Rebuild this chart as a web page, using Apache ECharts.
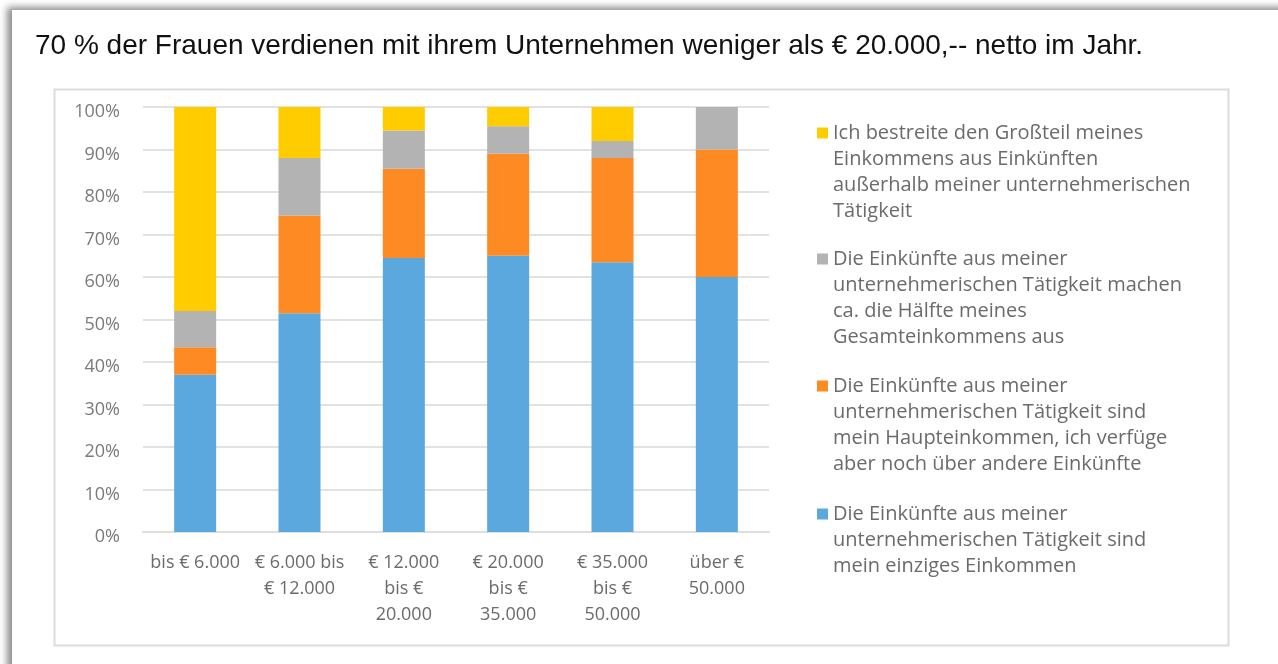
<!DOCTYPE html>
<html>
<head>
<meta charset="utf-8">
<script src="https://cdn.jsdelivr.net/npm/echarts@6/dist/echarts.min.js"></script>
<style>
	html, body {
		margin: 0;
		padding: 0;
		background: #ffffff;
		overflow: hidden;
	}
	.slide {
		position: absolute;
		left: 12px;
		top: 10px;
		width: 1300px;
		height: 700px;
		background: #ffffff;
		box-shadow: -5px -3px 7px rgba(0, 0, 0, 0.45);
	}
	#chart {
		position: absolute;
		left: 0;
		top: 0;
		width: 1278px;
		height: 664px;
	}
</style>
</head>
<body>
<div class="slide"></div>
<div id="chart"></div>
<script>
const categories = ['bis € 6.000', '€ 6.000 bis\n€ 12.000', '€ 12.000\nbis €\n20.000', '€ 20.000\nbis €\n35.000', '€ 35.000\nbis €\n50.000', 'über €\n50.000'];

const seriesNames = [
	'Die Einkünfte aus meiner unternehmerischen Tätigkeit sind mein einziges Einkommen',
	'Die Einkünfte aus meiner unternehmerischen Tätigkeit sind mein Haupteinkommen, ich verfüge aber noch über andere Einkünfte',
	'Die Einkünfte aus meiner unternehmerischen Tätigkeit machen ca. die Hälfte meines Gesamteinkommens aus',
	'Ich bestreite den Großteil meines Einkommens aus Einkünften außerhalb meiner unternehmerischen Tätigkeit'
];
const legendLines = [
	['Die Einkünfte aus meiner', 'unternehmerischen Tätigkeit sind', 'mein einziges Einkommen'],
	['Die Einkünfte aus meiner', 'unternehmerischen Tätigkeit sind', 'mein Haupteinkommen, ich verfüge', 'aber noch über andere Einkünfte'],
	['Die Einkünfte aus meiner', 'unternehmerischen Tätigkeit machen', 'ca. die Hälfte meines', 'Gesamteinkommens aus'],
	['Ich bestreite den Großteil meines', 'Einkommens aus Einkünften', 'außerhalb meiner unternehmerischen', 'Tätigkeit']
];

const einziges = [37, 51.5, 64.5, 65, 63.5, 60];
const haupt = [6.5, 23, 21, 24, 24.5, 30];
const haelfte = [8.5, 13.5, 9, 6.5, 4, 10];
const grossteil = [48, 12, 5.5, 4.5, 8, 0];

const seriesValues = [einziges, haupt, haelfte, grossteil];
const colors = ['#5BA8DF', '#FD8A22', '#B3B3B3', '#FFCC00'];

const lineH = 26;
const labelFont = '"Open Sans", Lato, sans-serif';
// y of the first text line of each legend entry (blue, orange, gray, yellow)
const legendRowY = [514, 386, 259, 133];

let myChart = echarts.init(document.getElementById('chart'), null, {renderer: 'canvas'});

// one legend per entry so the square sits next to the first line
let legends = [];
for (let i = 0; i < seriesNames.length; i++) {
	let n = legendLines[i].length;
	let blank = new Array(n - 1).fill('').join('\n');
	legends.push({
		orient: 'vertical',
		left: 817,
		top: legendRowY[i] - (2 * n - 1) * lineH / 2,
		padding: 0,
		itemWidth: 11,
		itemHeight: 11,
		icon: 'rect',
		selectedMode: false,
		data: [seriesNames[i]],
		formatter: function(name) {
			return blank + '\n' + legendLines[i].join('\n');
		},
		textStyle: {
			fontFamily: labelFont,
			fontSize: 20,
			lineHeight: lineH,
			color: '#6b6b6b'
		}
	});
}

let series = [];
for (let i = 0; i < seriesNames.length; i++) {
	series.push({
		name: seriesNames[i],
		type: 'bar',
		stack: 'total',
		barWidth: 42,
		data: seriesValues[i],
		itemStyle: {
			color: colors[i]
		},
		emphasis: {disabled: true}
	});
}

let option = {
	animation: false,
	color: colors,
	title: {
		text: '70 % der Frauen verdienen mit ihrem Unternehmen weniger als € 20.000,-- netto im Jahr.',
		left: 30,
		top: 27,
		textStyle: {
			fontFamily: '"Liberation Sans", Arial, sans-serif',
			fontWeight: 'normal',
			fontSize: 28,
			color: '#111111'
		}
	},
	graphic: [{
		type: 'rect',
		left: 52,
		top: 87,
		shape: {width: 1174, height: 556},
		style: {fill: 'none', stroke: '#dcdcdc', lineWidth: 2},
		silent: true
	}],
	grid: {
		left: 143,
		right: 509,
		top: 107,
		bottom: 132
	},
	legend: legends,
	xAxis: {
		type: 'category',
		data: categories,
		axisLine: {lineStyle: {color: '#dedede', width: 2}},
		axisTick: {show: false},
		axisLabel: {
			interval: 0,
			margin: 18,
			fontFamily: labelFont,
			fontSize: 18,
			lineHeight: lineH,
			color: '#6b6b6b'
		}
	},
	yAxis: {
		type: 'value',
		min: 0,
		max: 100,
		interval: 10,
		axisLine: {show: false},
		axisTick: {show: false},
		splitLine: {lineStyle: {color: '#e2e2e2', width: 2}},
		axisLabel: {
			formatter: '{value}%',
			margin: 23,
			verticalAlign: 'top',
			lineHeight: 10,
			fontFamily: labelFont,
			fontSize: 18,
			color: '#7a7a7a'
		}
	},
	series: series
};

option && myChart.setOption(option);
</script>
</body>
</html>
